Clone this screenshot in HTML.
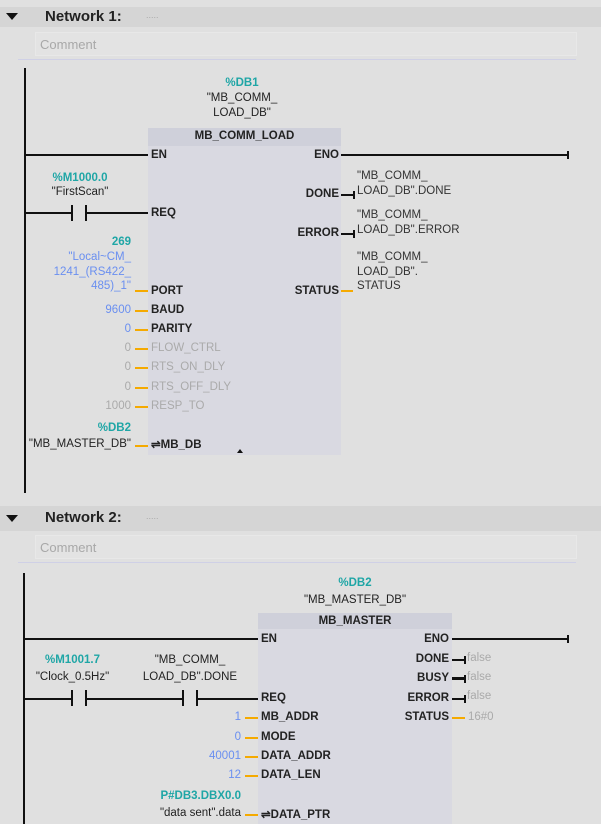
<!DOCTYPE html>
<html><head><meta charset="utf-8"><style>
*{margin:0;padding:0;box-sizing:border-box}
body{width:601px;height:824px;background:#e0e0e0;position:relative;overflow:hidden;font-family:"Liberation Sans",sans-serif;font-size:11.5px;color:#222}
div{position:absolute}
.t{line-height:16px;white-space:nowrap}
.r{text-align:right}
.c{text-align:center}
.b{font-weight:bold}
.teal{color:#1fa6a6;font-weight:bold}
.blue{color:#6a8ff0}
.gray{color:#aaa}
.bl{background:#111;height:2px}
.or{background:#f5aa00;height:2px}
.rail{background:#111;width:2px}
.hdr{left:0;width:601px;background:#d5d5d5}
.cm{background:#e3e3e3;border:1px solid #e8e8e8;color:#a8a8a8;font-size:13px;padding-left:4px;line-height:24px}
.sep{height:1px;background:#cfd0e6}
.blk{background:#d9d9e1}
.ttl{background:#cfd0da;font-weight:bold;text-align:center;line-height:17px}
.tri{width:0;height:0;border-left:6px solid transparent;border-right:6px solid transparent;border-top:7px solid #111}
.tick{background:#111;width:2px;height:8px}
.ct{background:#111;width:2px;height:16px}
</style></head><body>

<!-- Network 1 -->
<div class="hdr" style="top:7px;height:20px"></div>
<div class="tri" style="left:6px;top:13px"></div>
<div class="t b" style="left:45px;top:6px;font-size:15px;line-height:22px">Network 1:</div>
<div class="t gray" style="left:146px;top:7px;font-size:9px">.....</div>
<div class="cm" style="left:35px;top:32px;width:542px;height:24px">Comment</div>
<div class="sep" style="left:18px;top:59px;width:558px"></div>
<div class="rail" style="left:24px;top:68px;height:425px"></div>

<div class="t teal c" style="left:192px;top:75px;width:100px">%DB1</div>
<div class="t c" style="left:192px;top:90px;width:100px">"MB_COMM_</div>
<div class="t c" style="left:192px;top:105px;width:100px">LOAD_DB"</div>

<div class="blk" style="left:148px;top:128px;width:193px;height:327px"></div>
<div class="ttl" style="left:148px;top:128px;width:193px;height:18px">MB_COMM_LOAD</div>
<div style="left:237px;top:449px;width:0;height:0;border-left:3px solid transparent;border-right:3px solid transparent;border-bottom:4px solid #111"></div>

<div class="bl" style="left:25px;top:154px;width:123px"></div>
<div class="t b" style="left:151px;top:147px">EN</div>
<div class="t b r" style="right:262px;top:147px">ENO</div>
<div class="bl" style="left:341px;top:154px;width:228px"></div>
<div class="tick" style="left:567px;top:151px"></div>

<div class="t teal" style="left:40px;top:170px;width:80px;text-align:center">%M1000.0</div>
<div class="t c" style="left:30px;top:184px;width:100px">"FirstScan"</div>
<div class="bl" style="left:25px;top:212px;width:47px"></div>
<div class="ct" style="left:71px;top:205px"></div>
<div class="ct" style="left:85px;top:205px"></div>
<div class="bl" style="left:86px;top:212px;width:62px"></div>
<div class="t b" style="left:151px;top:205px">REQ</div>

<div class="t b r" style="right:262px;top:186px">DONE</div>
<div class="bl" style="left:341px;top:194px;width:13px"></div><div class="tick" style="left:353px;top:191px"></div>
<div class="t" style="left:357px;top:168px;color:#333">"MB_COMM_</div>
<div class="t" style="left:357px;top:183px;color:#333">LOAD_DB".DONE</div>
<div class="t b r" style="right:262px;top:225px">ERROR</div>
<div class="bl" style="left:341px;top:233px;width:13px"></div><div class="tick" style="left:353px;top:230px"></div>
<div class="t" style="left:357px;top:207px;color:#333">"MB_COMM_</div>
<div class="t" style="left:357px;top:222px;color:#333">LOAD_DB".ERROR</div>
<div class="t b r" style="right:262px;top:283px">STATUS</div>
<div class="or" style="left:341px;top:290px;width:12px"></div>
<div class="t" style="left:357px;top:249px;color:#333">"MB_COMM_</div>
<div class="t" style="left:357px;top:264px;color:#333">LOAD_DB".</div>
<div class="t" style="left:357px;top:278px;color:#333">STATUS</div>

<div class="t teal r" style="right:470px;top:234px">269</div>
<div class="t blue r" style="right:470px;top:249px">"Local~CM_</div>
<div class="t blue r" style="right:470px;top:264px">1241_(RS422_</div>
<div class="t blue r" style="right:470px;top:278px">485)_1"</div>
<div class="or" style="left:135px;top:290px;width:13px"></div>
<div class="t b" style="left:151px;top:283px">PORT</div>

<div class="t blue r" style="right:470px;top:302px">9600</div><div class="or" style="left:135px;top:310px;width:13px"></div><div class="t b" style="left:151px;top:302px">BAUD</div>
<div class="t blue r" style="right:470px;top:321px">0</div><div class="or" style="left:135px;top:329px;width:13px"></div><div class="t b" style="left:151px;top:321px">PARITY</div>
<div class="t gray r" style="right:470px;top:340px">0</div><div class="or" style="left:135px;top:348px;width:13px"></div><div class="t gray" style="left:151px;top:340px">FLOW_CTRL</div>
<div class="t gray r" style="right:470px;top:359px">0</div><div class="or" style="left:135px;top:367px;width:13px"></div><div class="t gray" style="left:151px;top:359px">RTS_ON_DLY</div>
<div class="t gray r" style="right:470px;top:379px">0</div><div class="or" style="left:135px;top:387px;width:13px"></div><div class="t gray" style="left:151px;top:379px">RTS_OFF_DLY</div>
<div class="t gray r" style="right:470px;top:398px">1000</div><div class="or" style="left:135px;top:406px;width:13px"></div><div class="t gray" style="left:151px;top:398px">RESP_TO</div>
<div class="t teal r" style="right:470px;top:420px">%DB2</div>
<div class="t r" style="right:470px;top:436px">"MB_MASTER_DB"</div>
<div class="or" style="left:135px;top:445px;width:13px"></div>
<div class="t b" style="left:151px;top:437px">⇌MB_DB</div>

<!-- Network 2 -->
<div class="hdr" style="top:506px;height:25px"></div>
<div class="tri" style="left:6px;top:515px"></div>
<div class="t b" style="left:45px;top:507px;font-size:15px;line-height:22px">Network 2:</div>
<div class="t gray" style="left:146px;top:508px;font-size:9px">.....</div>
<div class="cm" style="left:35px;top:535px;width:542px;height:24px">Comment</div>
<div class="sep" style="left:18px;top:562px;width:558px"></div>
<div class="rail" style="left:23px;top:573px;height:251px"></div>

<div class="t teal c" style="left:305px;top:575px;width:100px">%DB2</div>
<div class="t c" style="left:285px;top:592px;width:140px">"MB_MASTER_DB"</div>

<div class="blk" style="left:258px;top:613px;width:194px;height:211px"></div>
<div class="ttl" style="left:258px;top:613px;width:194px;height:16px;line-height:16px">MB_MASTER</div>

<div class="bl" style="left:24px;top:638px;width:234px"></div>
<div class="t b" style="left:261px;top:631px">EN</div>
<div class="t b r" style="right:152px;top:631px">ENO</div>
<div class="bl" style="left:452px;top:638px;width:117px"></div>
<div class="tick" style="left:567px;top:635px"></div>

<div class="t teal c" style="left:30px;top:652px;width:85px">%M1001.7</div>
<div class="t c" style="left:25px;top:669px;width:95px">"Clock_0.5Hz"</div>
<div class="t c" style="left:135px;top:652px;width:110px">"MB_COMM_</div>
<div class="t c" style="left:135px;top:669px;width:110px">LOAD_DB".DONE</div>
<div class="bl" style="left:24px;top:698px;width:48px"></div>
<div class="ct" style="left:71px;top:690px"></div>
<div class="ct" style="left:85px;top:690px"></div>
<div class="bl" style="left:86px;top:698px;width:97px"></div>
<div class="ct" style="left:182px;top:690px"></div>
<div class="ct" style="left:196px;top:690px"></div>
<div class="bl" style="left:197px;top:698px;width:61px"></div>
<div class="t b" style="left:261px;top:690px">REQ</div>

<div class="t b r" style="right:152px;top:651px">DONE</div>
<div class="bl" style="left:452px;top:659px;width:13px"></div><div class="tick" style="left:464px;top:656px"></div>
<div class="t gray" style="left:467px;top:650px">false</div>
<div class="t b r" style="right:152px;top:670px">BUSY</div>
<div class="bl" style="left:452px;top:677px;width:13px;height:3px"></div><div class="tick" style="left:464px;top:675px"></div>
<div class="t gray" style="left:467px;top:669px">false</div>
<div class="t b r" style="right:152px;top:690px">ERROR</div>
<div class="bl" style="left:452px;top:698px;width:13px"></div><div class="tick" style="left:464px;top:695px"></div>
<div class="t gray" style="left:467px;top:688px">false</div>
<div class="t b r" style="right:152px;top:709px">STATUS</div>
<div class="or" style="left:452px;top:717px;width:13px"></div>
<div class="t gray" style="left:468px;top:709px">16#0</div>

<div class="t blue r" style="right:360px;top:709px">1</div><div class="or" style="left:245px;top:717px;width:13px"></div><div class="t b" style="left:261px;top:709px">MB_ADDR</div>
<div class="t blue r" style="right:360px;top:729px">0</div><div class="or" style="left:245px;top:737px;width:13px"></div><div class="t b" style="left:261px;top:729px">MODE</div>
<div class="t blue r" style="right:360px;top:748px">40001</div><div class="or" style="left:245px;top:756px;width:13px"></div><div class="t b" style="left:261px;top:748px">DATA_ADDR</div>
<div class="t blue r" style="right:360px;top:767px">12</div><div class="or" style="left:245px;top:775px;width:13px"></div><div class="t b" style="left:261px;top:767px">DATA_LEN</div>
<div class="t teal r" style="right:360px;top:788px">P#DB3.DBX0.0</div>
<div class="t r" style="right:360px;top:805px">"data sent".data</div>
<div class="or" style="left:245px;top:814px;width:13px"></div>
<div class="t b" style="left:261px;top:807px">⇌DATA_PTR</div>
</body></html>
